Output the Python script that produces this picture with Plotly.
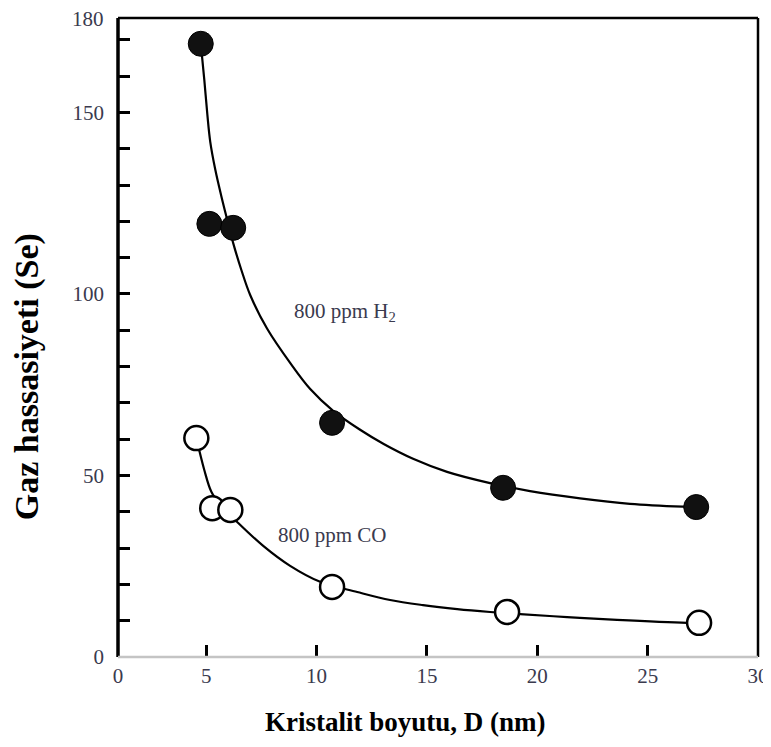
import plotly.graph_objects as go

# ---- data ----
h2_x = [4.75, 5.14, 6.22, 10.7, 18.45, 27.2]
h2_y = [168.9, 119.3, 118.2, 64.5, 46.6, 41.3]

co_x = [4.55, 5.27, 6.09, 10.7, 18.63, 27.33]
co_y = [60.3, 41.0, 40.5, 19.3, 12.4, 9.4]

# fitted guide curves
h2_curve_x = [4.77, 4.91, 5.05, 5.18, 5.41, 5.68, 5.95, 6.22, 6.59, 6.99, 7.76, 8.80,
              9.71, 10.75, 11.97, 13.06, 14.37, 15.91, 17.86, 19.67, 21.94, 24.20,
              26.60, 27.20]
h2_curve_y = [167.8, 159.0, 149.3, 141.9, 134.2, 127.0, 120.4, 114.0, 106.6, 99.7,
              90.4, 81.0, 73.8, 67.8, 62.6, 58.6, 54.6, 51.0, 47.9, 45.7, 43.7, 42.2,
              41.4, 41.3]

co_curve_x = [4.55, 4.91, 5.23, 5.63, 6.09, 6.40, 7.58, 8.80, 10.16, 11.84, 13.33,
              14.82, 16.37, 17.86, 19.22, 21.35, 23.61, 26.78, 27.33]
co_curve_y = [60.3, 51.5, 45.5, 41.9, 39.1, 37.2, 30.6, 25.1, 20.7, 17.9, 15.7,
              14.3, 13.2, 12.4, 11.8, 11.0, 10.2, 9.4, 9.4]

x_tickvals = [1.0, 5, 10, 15, 20, 25, 30]
x_ticktext = ["0", "5", "10", "15", "20", "25", "30"]
y_tickvals = [0, 50, 100, 150]
y_ticktext = ["0", "50", "100", "150"]
y_top_val = 176
y_top_text = "180"

label_h2 = "800 ppm H<sub>2</sub>"
label_co = "800 ppm CO"
x_title = "Kristalit boyutu, D (nm)"
y_title = "Gaz hassasiyeti (Se)"

SERIF = "Liberation Serif, Times New Roman, serif"
TXT = "#3a3a4e"

fig = go.Figure()
for cx, cy in ((h2_curve_x, h2_curve_y), (co_curve_x, co_curve_y)):
    fig.add_trace(go.Scatter(x=cx, y=cy, mode="lines",
                             line=dict(color="black", width=2.2, shape="spline", smoothing=1.0),
                             hoverinfo="skip", showlegend=False))
fig.add_trace(go.Scatter(x=h2_x, y=h2_y, mode="markers",
                         marker=dict(size=25, color="#111111",
                                     line=dict(color="black", width=1)),
                         showlegend=False))
fig.add_trace(go.Scatter(x=co_x, y=co_y, mode="markers",
                         marker=dict(size=24, color="white",
                                     line=dict(color="black", width=2.5)),
                         showlegend=False))

fig.add_annotation(x=11.27, y=95.0, text=label_h2, showarrow=False,
                   font=dict(family=SERIF, size=21, color=TXT))
fig.add_annotation(x=10.7, y=33.6, text=label_co, showarrow=False,
                   font=dict(family=SERIF, size=21, color=TXT))

# top y tick label (sits at the upper frame edge)
fig.add_annotation(xref="paper", yref="y", x=0, y=y_top_val, text=y_top_text,
                   xanchor="right", yanchor="middle", xshift=-12, yshift=-1, showarrow=False,
                   font=dict(family=SERIF, size=21, color=TXT))

fig.add_annotation(xref="paper", yref="paper", x=0.449, y=-0.102, text=f"<b>{x_title}</b>",
                   xanchor="center", yanchor="middle",
                   showarrow=False, font=dict(family=SERIF, size=27, color="black"))
fig.add_annotation(xref="paper", yref="paper", x=-0.142, y=0.438, text=f"<b>{y_title}</b>",
                   xanchor="center", yanchor="middle",
                   textangle=-90, showarrow=False, font=dict(family=SERIF, size=34, color="black"))

# frame
fig.add_shape(type="line", xref="paper", yref="paper", x0=0, x1=0, y0=0, y1=1,
              line=dict(color="black", width=3.5))
fig.add_shape(type="line", xref="paper", yref="paper", x0=0, x1=1, y0=1, y1=1,
              line=dict(color="black", width=2.5))
fig.add_shape(type="line", xref="paper", yref="paper", x0=1, x1=1, y0=0, y1=1,
              line=dict(color="black", width=2.5))
fig.add_shape(type="line", xref="paper", yref="paper", x0=0, x1=1, y0=0, y1=0,
              line=dict(color="#c4c4c4", width=2.5))

fig.update_xaxes(range=[1.0, 30], tickvals=x_tickvals, ticktext=x_ticktext,
                 ticks="inside", ticklen=12, tickwidth=2.5, tickcolor="black",
                 showline=False, showgrid=False, zeroline=False, automargin=False,
                 ticklabelstandoff=4,
                 tickfont=dict(family=SERIF, size=21, color=TXT))
fig.update_yaxes(range=[0, 176], tickvals=y_tickvals, ticktext=y_ticktext,
                 ticks="inside", ticklen=12, tickwidth=2.5, tickcolor="black",
                 minor=dict(dtick=10, tick0=0, ticks="inside", ticklen=12, tickwidth=2.5,
                            tickcolor="black"),
                 showline=False, showgrid=False, zeroline=False, automargin=False,
                 ticklabelstandoff=13,
                 tickfont=dict(family=SERIF, size=21, color=TXT))

fig.update_layout(width=763, height=739, margin=dict(l=110, r=13, t=10, b=90),
                  plot_bgcolor="white", paper_bgcolor="white", showlegend=False)

fig.write_html("out.html")
